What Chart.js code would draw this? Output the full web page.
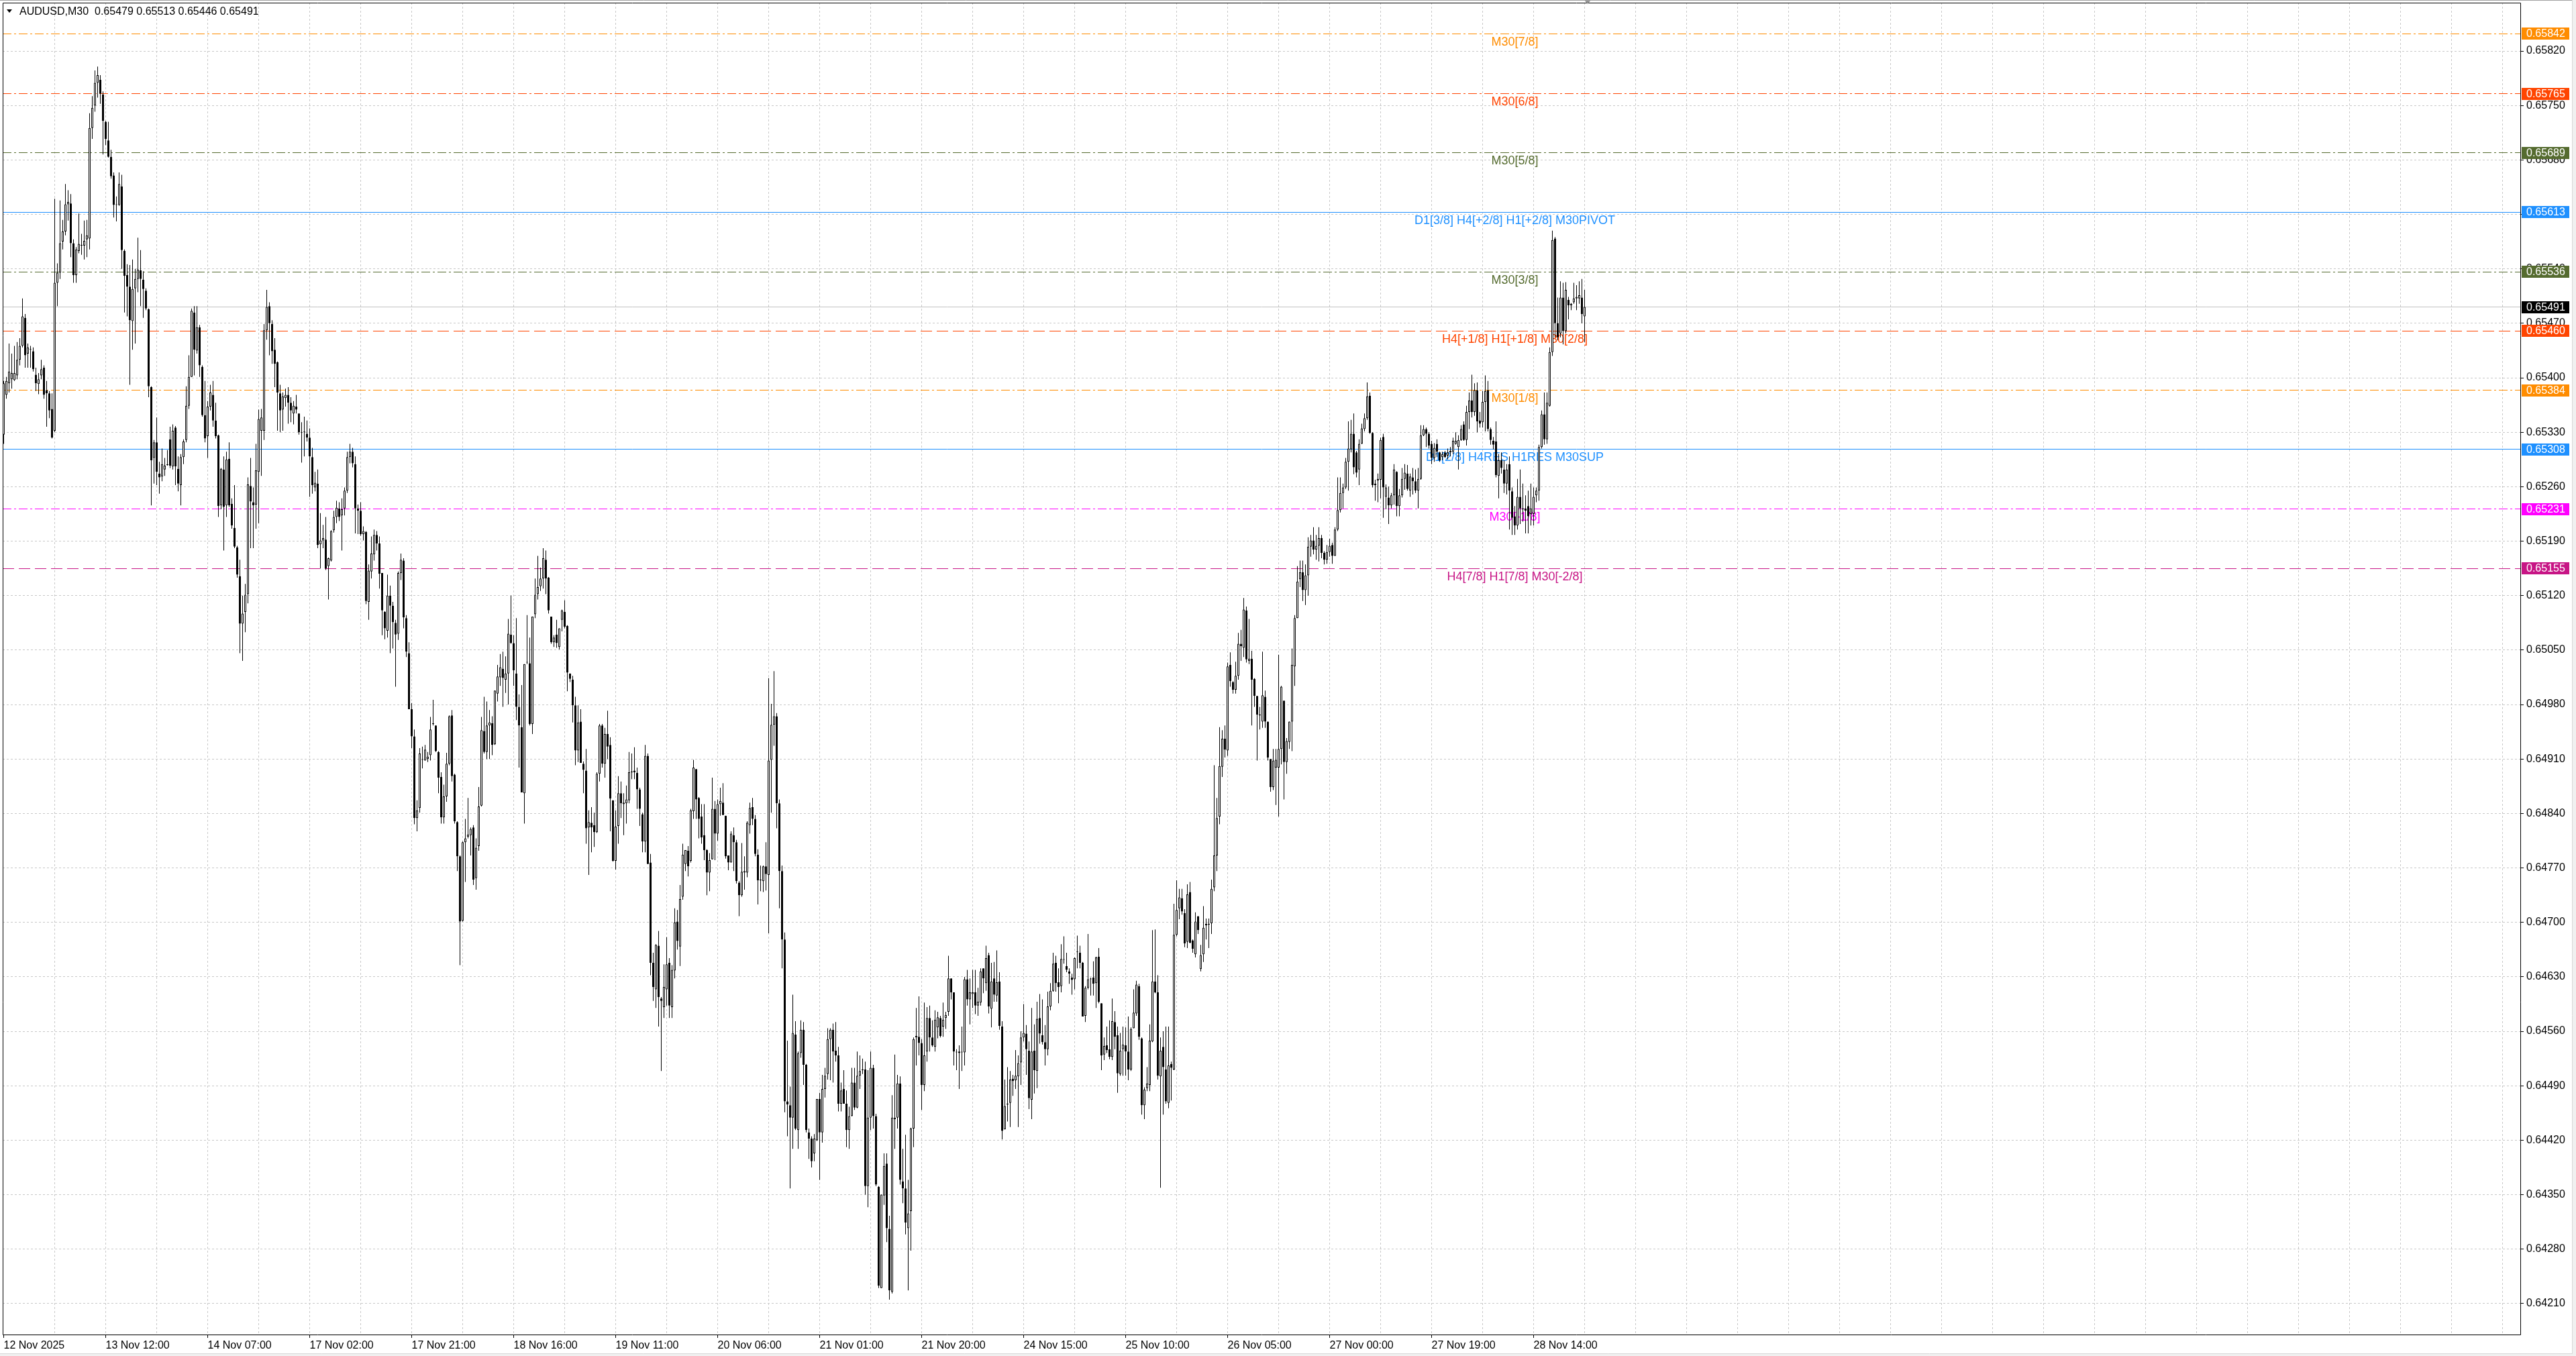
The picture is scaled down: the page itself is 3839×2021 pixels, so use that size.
<!DOCTYPE html>
<html>
<head>
<meta charset="utf-8">
<title>AUDUSD,M30</title>
<script src="https://cdn.jsdelivr.net/npm/chart.js@4.4.1/dist/chart.umd.min.js"></script>
<style>
  html, body { margin: 0; padding: 0; background: #ffffff; overflow: hidden; }
  #wrap { width: 3839px; height: 2021px; position: relative; }
</style>
</head>
<body>
<div id="wrap"><canvas id="chart"></canvas></div>
<script>
// AUDUSD M30 candles, prices in points (1 point = 0.00001)
var openPts = [
  65327,65378,65393,65398,65397,65403,65423,65441,65477,65431,
  65436,65434,65404,65392,65403,65413,65384,65380,65360,65332,
  65522,65535,65575,65588,65623,65624,65573,65532,65563,65570,
  65570,65578,65579,65721,65750,65779,65783,65764,65729,65705,
  65684,65660,65622,65622,65646,65563,65532,65517,65473,65515,
  65527,65538,65526,65512,65488,65388,65297,65317,65277,65273,
  65282,65288,65321,65286,65336,65283,65262,65298,65320,65364,
  65401,65484,65435,65465,65414,65352,65325,65363,65378,65345,
  65326,65236,65282,65236,65296,65238,65207,65182,65145,65084,
  65099,65122,65261,65240,65237,65279,65332,65332,65461,65492,
  65469,65436,65420,65380,65359,65374,65378,65368,65354,65363,
  65354,65330,65330,65328,65323,65298,65259,65264,65186,65191,
  65192,65158,65165,65204,65221,65232,65223,65232,65255,65298,
  65305,65289,65232,65229,65199,65202,65112,65151,65173,65198,
  65187,65149,65099,65075,65120,65107,65085,65071,65149,65165,
  65091,65046,64974,64939,64834,64847,64909,64908,64910,64915,
  64955,64953,64919,64887,64835,64862,64904,64966,64890,64829,
  64785,64702,64803,64810,64812,64822,64757,64798,64850,64946,
  64919,64953,64956,64929,64994,65015,65026,65012,65020,65070,
  65059,65020,64977,64951,64866,65034,65033,64955,65096,65122,
  65132,65142,65166,65143,65093,65060,65070,65054,65089,65099,
  65081,65020,65012,64979,64921,64958,64904,64895,64822,64828,
  64825,64816,64891,64953,64904,64942,64928,64857,64779,64824,
  64866,64852,64853,64857,64893,64895,64892,64871,64839,64804,
  64914,64777,64648,64614,64670,64602,64591,64614,64648,64591,
  64638,64701,64669,64733,64775,64792,64779,64843,64897,64860,
  64836,64812,64793,64764,64781,64846,64814,64852,64854,64837,
  64786,64777,64812,64803,64751,64735,64764,64764,64825,64848,
  64833,64787,64754,64753,64772,64761,64909,64954,64965,64853,
  64766,64678,64470,64465,64449,64556,64433,64532,64562,64517,
  64430,64422,64403,64420,64473,64430,64486,64505,64550,64562,
  64535,64529,64467,64486,64467,64433,64451,64494,64462,64503,
  64510,64511,64361,64449,64513,64451,64360,64230,64349,64390,
  64306,64225,64447,64449,64493,64367,64358,64307,64329,64435,
  64552,64553,64545,64491,64534,64577,64552,64540,64565,64577,
  64566,64577,64585,64628,64610,64533,64534,64533,64533,64627,
  64601,64608,64610,64593,64597,64641,64622,64658,64589,64628,
  64606,64624,64566,64434,64466,64468,64499,64497,64502,64520,
  64552,64557,64535,64472,64535,64509,64577,64555,64546,64537,
  64592,64612,64648,64623,64618,64652,64644,64637,64629,64627,
  64662,64661,64648,64580,64616,64627,64629,64622,64656,64596,
  64530,64542,64537,64527,64572,64555,64505,64537,64542,64534,
  64511,64564,64583,64618,64551,64465,64487,64491,64547,64624,
  64610,64502,64540,64511,64468,64518,64511,64684,64718,64731,
  64712,64675,64739,64677,64659,64708,64640,64659,64698,64697,
  64699,64745,64786,64836,64900,64936,64921,65031,65009,64999,
  65017,65058,65053,65101,65036,65039,65013,64991,64967,64958,
  64990,64958,64910,64874,64899,64899,64923,64985,64906,64932,
  64958,65029,65091,65141,65150,65127,65146,65183,65191,65179,
  65184,65194,65175,65166,65176,65185,65171,65205,65230,65252,
  65259,65292,65308,65328,65304,65282,65315,65334,65348,65377,
  65329,65264,65268,65269,65324,65247,65246,65236,65249,65279,
  65235,65249,65270,65277,65255,65272,65267,65255,65270,65326,
  65334,65328,65315,65297,65315,65304,65298,65304,65300,65304,
  65305,65315,65311,65320,65340,65320,65356,65371,65356,65384,
  65345,65343,65369,65384,65334,65319,65318,65274,65294,65282,
  65264,65289,65254,65222,65210,65247,65231,65232,65235,65225,
  65225,65249,65255,65311,65353,65321,65364,65433,65579,65470,
  65457,65503,65460,65500,65493,65497,65502,65502,65503,65479
];
var highPts = [
  65396,65401,65444,65431,65441,65446,65451,65502,65482,65444,
  65441,65439,65413,65406,65423,65416,65396,65383,65380,65630,
  65547,65628,65603,65649,65641,65636,65578,65568,65611,65585,
  65602,65603,65740,65762,65795,65800,65789,65768,65730,65729,
  65693,65664,65633,65664,65661,65565,65546,65545,65552,65540,
  65580,65564,65537,65515,65489,65389,65320,65349,65292,65309,
  65297,65307,65337,65340,65338,65299,65302,65321,65389,65429,
  65489,65492,65492,65468,65416,65396,65370,65391,65396,65368,
  65327,65284,65299,65305,65317,65245,65262,65184,65166,65120,
  65135,65272,65297,65259,65315,65359,65360,65469,65513,65497,
  65474,65451,65421,65391,65381,65386,65388,65375,65370,65378,
  65354,65343,65350,65345,65335,65310,65279,65282,65226,65211,
  65221,65169,65204,65229,65242,65240,65245,65259,65305,65315,
  65310,65299,65237,65240,65209,65203,65160,65196,65205,65203,
  65196,65149,65100,65147,65133,65112,65089,65151,65174,65168,
  65095,65060,64982,64948,64857,64924,64926,64928,64919,64964,
  64986,64953,64920,64893,64877,64918,64966,64973,64891,64830,
  64786,64804,64833,64860,64822,64825,64808,64874,64964,64990,
  64984,64973,64965,64998,65031,65045,65048,65042,65090,65120,
  65069,65091,64993,65005,65032,65095,65066,65093,65142,65171,
  65156,65181,65178,65144,65093,65069,65089,65078,65102,65114,
  65082,65020,65017,64990,64979,64974,64907,64923,64844,64848,
  64841,64893,64955,64955,64950,64972,64938,64857,64844,64888,
  64881,64866,64876,64919,64917,64925,64899,64873,64841,64928,
  64917,64788,64661,64672,64689,64604,64646,64681,64654,64645,
  64718,64716,64748,64801,64793,64798,64846,64909,64897,64861,
  64852,64852,64794,64789,64886,64856,64858,64873,64879,64837,
  64786,64817,64822,64806,64753,64802,64785,64830,64854,64860,
  64838,64794,64773,64773,64803,65014,64981,65023,64969,64858,
  64773,64687,64548,64489,64607,64573,64534,64574,64572,64518,
  64435,64425,64428,64473,64481,64504,64513,64564,64564,64570,
  64572,64540,64494,64510,64484,64463,64513,64513,64534,64529,
  64525,64521,64510,64534,64517,64454,64361,64350,64403,64403,
  64323,64478,64530,64504,64502,64409,64427,64369,64436,64552,
  64590,64605,64550,64597,64591,64593,64574,64587,64585,64580,
  64597,64585,64657,64628,64610,64537,64542,64566,64630,64639,
  64628,64639,64639,64616,64641,64641,64670,64661,64648,64649,
  64664,64636,64573,64498,64514,64509,64504,64536,64529,64560,
  64595,64568,64547,64590,64569,64598,64608,64601,64568,64611,
  64622,64661,64657,64641,64672,64682,64661,64641,64634,64655,
  64683,64670,64649,64618,64685,64629,64650,64656,64667,64596,
  64552,64566,64574,64602,64586,64566,64558,64566,64565,64579,
  64565,64614,64625,64621,64552,64488,64514,64569,64690,64691,
  64632,64552,64560,64566,64566,64521,64724,64754,64743,64743,
  64717,64749,64752,64678,64713,64708,64671,64721,64705,64705,
  64755,64902,64860,64951,64947,64953,65034,65047,65010,65035,
  65072,65076,65117,65106,65090,65049,65014,64991,64977,65048,
  64998,64958,64910,64923,64923,65044,65004,64985,64937,64958,
  65052,65095,65158,65165,65165,65160,65195,65198,65208,65198,
  65208,65198,65177,65185,65193,65188,65208,65272,65272,65264,
  65297,65344,65346,65354,65306,65321,65341,65354,65394,65381,
  65330,65269,65277,65323,65328,65263,65260,65252,65289,65280,
  65257,65284,65289,65288,65277,65284,65282,65284,65339,65339,
  65336,65330,65319,65316,65321,65305,65305,65306,65309,65311,
  65323,65330,65326,65339,65344,65364,65381,65404,65393,65394,
  65356,65383,65403,65396,65336,65324,65344,65302,65304,65294,
  65289,65299,65259,65235,65270,65282,65264,65249,65255,65264,
  65259,65259,65314,65358,65381,65381,65439,65589,65581,65503,
  65524,65522,65523,65504,65496,65522,65519,65524,65527,65513
];
var lowPts = [
  65315,65373,65381,65386,65396,65398,65416,65439,65413,65413,
  65413,65408,65383,65379,65398,65373,65337,65348,65322,65330,
  65492,65527,65565,65583,65602,65555,65522,65522,65560,65558,
  65552,65555,65565,65707,65742,65760,65752,65687,65699,65683,
  65656,65606,65601,65621,65540,65484,65479,65391,65436,65444,
  65510,65492,65477,65487,65375,65236,65264,65262,65251,65267,
  65274,65287,65284,65282,65262,65254,65236,65289,65317,65360,
  65401,65403,65431,65401,65350,65317,65297,65358,65337,65322,
  65221,65231,65178,65221,65234,65206,65181,65143,65046,65036,
  65073,65110,65181,65181,65206,65213,65274,65320,65449,65429,
  65418,65388,65332,65330,65332,65363,65341,65343,65340,65354,
  65327,65291,65299,65318,65247,65251,65254,65181,65155,65181,
  65153,65115,65164,65201,65213,65216,65178,65223,65252,65290,
  65285,65200,65199,65197,65191,65109,65089,65142,65165,65178,
  65129,65069,65064,65066,65046,65052,65003,65063,65140,65078,
  65041,64974,64924,64826,64817,64841,64898,64908,64906,64908,
  64953,64919,64866,64827,64827,64855,64902,64881,64827,64766,
  64645,64701,64752,64808,64786,64748,64742,64792,64849,64917,
  64910,64910,64915,64928,64984,65004,64977,64995,64980,65058,
  65004,64960,64899,64867,64827,65032,64953,64942,65091,65115,
  65126,65129,65122,65097,65058,65054,65053,65051,65074,65078,
  64997,65009,64957,64902,64906,64905,64866,64801,64761,64790,
  64797,64815,64881,64899,64886,64910,64817,64778,64768,64801,
  64834,64812,64827,64853,64884,64884,64846,64824,64790,64790,
  64775,64632,64599,64590,64566,64509,64577,64593,64577,64577,
  64628,64665,64644,64729,64766,64759,64777,64833,64833,64808,
  64801,64780,64735,64740,64781,64780,64805,64837,64838,64782,
  64767,64777,64766,64750,64708,64733,64742,64758,64814,64825,
  64785,64723,64740,64739,64741,64686,64841,64927,64821,64718,
  64641,64456,64425,64358,64409,64433,64409,64526,64491,64430,
  64396,64385,64393,64419,64369,64417,64475,64498,64497,64494,
  64521,64457,64457,64467,64411,64409,64451,64459,64461,64486,
  64505,64350,64334,64433,64435,64361,64230,64230,64337,64289,
  64215,64223,64409,64435,64363,64339,64299,64227,64278,64411,
  64516,64529,64459,64483,64521,64534,64540,64534,64551,64552,
  64553,64563,64580,64601,64516,64510,64486,64509,64516,64593,
  64569,64590,64582,64580,64593,64609,64612,64583,64565,64598,
  64598,64562,64421,64434,64444,64437,64477,64486,64437,64491,
  64547,64504,64460,64447,64480,64487,64544,64543,64516,64529,
  64587,64611,64611,64596,64610,64647,64636,64621,64607,64614,
  64641,64641,64579,64572,64614,64606,64606,64590,64596,64510,
  64523,64532,64524,64523,64537,64481,64503,64503,64503,64497,
  64509,64564,64580,64549,64453,64447,64483,64483,64546,64609,
  64498,64359,64453,64467,64461,64471,64510,64682,64704,64710,
  64668,64667,64673,64661,64655,64685,64637,64649,64678,64667,
  64685,64740,64766,64826,64887,64912,64914,65003,64994,64994,
  65012,65036,65041,65034,65032,64953,64977,64908,64948,64950,
  64950,64908,64868,64870,64851,64836,64903,64858,64891,64923,
  64920,65004,65091,65131,65113,65108,65120,65170,65173,65166,
  65164,65168,65160,65161,65170,65161,65171,65203,65227,65232,
  65257,65255,65304,65276,65272,65262,65315,65331,65346,65328,
  65259,65242,65240,65245,65220,65231,65212,65232,65237,65222,
  65222,65246,65256,65255,65247,65250,65252,65232,65269,65325,
  65311,65309,65289,65292,65298,65292,65294,65297,65295,65299,
  65302,65314,65282,65319,65319,65313,65334,65349,65351,65330,
  65336,65336,65331,65331,65314,65308,65272,65245,65277,65252,
  65250,65205,65198,65198,65205,65212,65215,65200,65200,65210,
  65210,65240,65242,65309,65314,65315,65363,65428,65452,65448,
  65452,65443,65457,65475,65487,65495,65487,65495,65470,65446
];
var closePts = [
  65393,65396,65408,65406,65406,65423,65441,65479,65429,65439,
  65436,65411,65393,65398,65411,65378,65380,65358,65323,65522,
  65535,65573,65588,65623,65626,65573,65532,65565,65572,65570,
  65576,65583,65721,65747,65779,65789,65765,65730,65707,65684,
  65659,65622,65623,65649,65564,65531,65517,65474,65514,65527,
  65539,65527,65514,65489,65389,65294,65317,65279,65272,65289,
  65287,65288,65287,65332,65286,65264,65298,65318,65364,65401,
  65486,65436,65465,65416,65352,65322,65363,65381,65345,65325,
  65235,65283,65234,65295,65236,65210,65183,65147,65084,65097,
  65121,65263,65241,65236,65281,65347,65349,65461,65491,65470,
  65434,65418,65381,65358,65376,65378,65368,65358,65364,65359,
  65330,65329,65330,65323,65299,65262,65265,65185,65191,65194,
  65155,65168,65203,65221,65233,65221,65231,65255,65298,65305,
  65290,65232,65229,65199,65203,65113,65152,65174,65198,65187,
  65148,65101,65078,65120,65107,65086,65070,65149,65166,65092,
  65048,64974,64939,64834,64844,64917,64909,64922,64913,64948,
  64955,64920,64886,64835,64862,64904,64965,64888,64830,64785,
  64701,64803,64808,64813,64820,64755,64796,64849,64947,64919,
  64953,64957,64928,64998,65016,65028,65014,65020,65071,65059,
  65024,64977,64953,64867,65032,65034,64955,65093,65121,65131,
  65142,65168,65142,65101,65060,65066,65059,65078,65101,65080,
  65021,65013,64979,64921,64957,64905,64896,64821,64829,64822,
  64816,64891,64953,64904,64942,64926,64859,64779,64823,64866,
  64853,64854,64858,64893,64894,64893,64871,64846,64804,64914,
  64775,64648,64617,64671,64604,64599,64617,64646,64593,64639,
  64700,64676,64730,64787,64793,64772,64844,64899,64858,64833,
  64809,64793,64764,64780,64846,64814,64852,64856,64838,64785,
  64777,64814,64803,64753,64735,64765,64766,64828,64847,64833,
  64788,64754,64754,64772,64762,64908,64954,64965,64853,64766,
  64678,64470,64466,64449,64558,64435,64532,64562,64517,64433,
  64422,64393,64422,64473,64430,64486,64503,64550,64562,64534,
  64529,64467,64484,64467,64433,64451,64494,64462,64503,64509,
  64510,64361,64449,64513,64451,64363,64233,64350,64387,64307,
  64227,64449,64449,64493,64369,64358,64314,64326,64435,64550,
  64554,64545,64491,64529,64577,64552,64542,64575,64578,64554,
  64575,64581,64628,64610,64534,64533,64532,64533,64627,64601,
  64610,64610,64593,64598,64637,64628,64654,64592,64624,64607,
  64623,64567,64432,64464,64466,64498,64496,64503,64519,64552,
  64558,64537,64474,64534,64510,64576,64557,64546,64537,64592,
  64612,64647,64622,64617,64653,64652,64639,64634,64626,64654,
  64662,64648,64579,64616,64627,64627,64621,64655,64598,64529,
  64541,64536,64527,64573,64553,64506,64535,64543,64534,64511,
  64563,64584,64620,64553,64465,64485,64493,64548,64624,64610,
  64503,64535,64514,64470,64516,64513,64684,64716,64732,64714,
  64673,64736,64674,64666,64701,64690,64658,64693,64696,64698,
  64743,64786,64834,64901,64936,64922,65029,65010,64999,65017,
  65058,65055,65102,65038,65039,65012,64991,64967,64966,64992,
  64958,64912,64874,64908,64909,64923,65003,64906,64933,64958,
  65031,65091,65138,65150,65127,65146,65183,65191,65179,65184,
  65194,65175,65166,65176,65184,65171,65205,65230,65252,65259,
  65292,65309,65328,65285,65278,65315,65335,65348,65376,65329,
  65262,65262,65270,65320,65259,65259,65236,65249,65282,65235,
  65249,65270,65278,65257,65273,65267,65255,65270,65326,65334,
  65328,65313,65297,65310,65305,65294,65302,65298,65304,65306,
  65319,65319,65320,65334,65320,65356,65371,65356,65384,65344,
  65341,65369,65383,65334,65320,65314,65275,65294,65284,65264,
  65282,65255,65220,65210,65247,65232,65232,65229,65222,65232,
  65247,65255,65311,65353,65321,65368,65433,65577,65470,65452,
  65503,65460,65513,65493,65495,65502,65504,65506,65482,65491
];

// time axis labels, one every 38 bars (19 hours)
var xTickLabels = ['12 Nov 2025', '13 Nov 12:00', '14 Nov 07:00', '17 Nov 02:00', '17 Nov 21:00',
  '18 Nov 16:00', '19 Nov 11:00', '20 Nov 06:00', '21 Nov 01:00', '21 Nov 20:00', '24 Nov 15:00',
  '25 Nov 10:00', '26 Nov 05:00', '27 Nov 00:00', '27 Nov 19:00', '28 Nov 14:00'];
var yTickValues = [0.65820, 0.65750, 0.65680, 0.65610, 0.65540, 0.65470, 0.65400, 0.65330, 0.65260,
  0.65190, 0.65120, 0.65050, 0.64980, 0.64910, 0.64840, 0.64770, 0.64700, 0.64630, 0.64560,
  0.64490, 0.64420, 0.64350, 0.64280, 0.64210];

// Murrey math levels
var levelValues = [0.65842, 0.65765, 0.65689, 0.65613, 0.65536, 0.65460, 0.65384, 0.65308, 0.65231, 0.65155];
var levelNames = ['M30[7/8]', 'M30[6/8]', 'M30[5/8]', 'D1[3/8] H4[+2/8] H1[+2/8] M30PIVOT', 'M30[3/8]',
  'H4[+1/8] H1[+1/8] M30[2/8]', 'M30[1/8]', 'D1[2/8] H4RES H1RES M30SUP', 'M30[-1/8]', 'H4[7/8] H1[7/8] M30[-2/8]'];
var levelColors = ['#FF8C00', '#FF4500', '#556B2F', '#1E90FF', '#556B2F', '#FF4500', '#FF8C00', '#1E90FF', '#FF00FF', '#C71585'];
var levelStyles = ['dashdot', 'dashdot', 'dashdot', 'solid', 'dashdot', 'dash', 'dashdot', 'solid', 'dashdot', 'dash'];

var barsPerLabel = 38;
var barsPerGrid = 19;
var labelBar = 563;     // where the level names sit
var shiftBar = 590;     // chart shift marker
var yAxisMin = 0.641694;
var yAxisMax = 0.658821;
var fontFamily = "'Liberation Sans', Arial, sans-serif";

Chart.defaults.font.family = fontFamily;
Chart.defaults.font.size = 16;
Chart.defaults.color = '#000000';

var bodyData = [];
var wickData = [];
for (var i = 0; i < openPts.length; i++) {
  bodyData.push({ x: i, y: [openPts[i] / 100000, closePts[i] / 100000] });
  wickData.push({ x: i, y: [lowPts[i] / 100000, highPts[i] / 100000] });
}

function dashFor(style) {
  if (style === 'dashdot') return [13, 4, 3, 4];
  if (style === 'dash') return [17, 7];
  return [];
}

var mtPlugin = {
  id: 'mtLevels',
  beforeDatasetsDraw: function (chart) {
    var ctx = chart.ctx, a = chart.chartArea;
    var ys = chart.scales.y, xs = chart.scales.x;
    ctx.save();
    ctx.beginPath();
    ctx.rect(a.left, a.top, a.right - a.left, a.bottom - a.top);
    ctx.clip();
    ctx.lineWidth = 1;

    // bid line
    var bid = closePts[closePts.length - 1] / 100000;
    var yb = Math.floor(ys.getPixelForValue(bid)) + 0.5;
    ctx.strokeStyle = '#C0C0C0';
    ctx.setLineDash([]);
    ctx.beginPath(); ctx.moveTo(a.left, yb); ctx.lineTo(a.right, yb); ctx.stroke();

    for (var k = 0; k < levelValues.length; k++) {
      var y = Math.floor(ys.getPixelForValue(levelValues[k])) + 0.5;
      ctx.strokeStyle = levelColors[k];
      ctx.setLineDash(dashFor(levelStyles[k]));
      ctx.beginPath(); ctx.moveTo(a.left, y); ctx.lineTo(a.right, y); ctx.stroke();
    }
    ctx.setLineDash([]);
    ctx.font = '18px ' + fontFamily;
    ctx.textAlign = 'center';
    ctx.textBaseline = 'alphabetic';
    var lx = xs.getPixelForValue(labelBar);
    for (var m = 0; m < levelValues.length; m++) {
      var yl = ys.getPixelForValue(levelValues[m]);
      ctx.fillStyle = levelColors[m];
      ctx.fillText(levelNames[m], lx, yl + 17.5);
    }
    ctx.restore();
  },
  afterDraw: function (chart) {
    var ctx = chart.ctx, a = chart.chartArea;
    var ys = chart.scales.y, xs = chart.scales.x;
    ctx.save();
    // chart frame
    ctx.strokeStyle = '#000000';
    ctx.lineWidth = 1;
    ctx.beginPath();
    ctx.moveTo(a.left + 0.5, a.bottom - 0.5);
    ctx.lineTo(a.left + 0.5, a.top + 0.5);
    ctx.lineTo(a.right - 0.5, a.top + 0.5);
    ctx.lineTo(a.right - 0.5, a.bottom - 0.5);
    ctx.lineTo(a.left + 0.5, a.bottom - 0.5);
    ctx.stroke();

    // price boxes on the axis
    ctx.font = '16px ' + fontFamily;
    ctx.textAlign = 'left';
    ctx.textBaseline = 'middle';
    var boxes = [];
    for (var k = 0; k < levelValues.length; k++) boxes.push([levelValues[k], levelColors[k]]);
    boxes.push([closePts[closePts.length - 1] / 100000, '#000000']);
    boxes.forEach(function (b) {
      var y = Math.round(ys.getPixelForValue(b[0]));
      ctx.fillStyle = b[1];
      ctx.fillRect(a.right + 1, y - 9, 71, 18);
      ctx.fillStyle = '#ffffff';
      ctx.fillText(b[0].toFixed(5), a.right + 8, y + 1);
    });

    // header
    ctx.fillStyle = '#000000';
    ctx.beginPath();
    ctx.moveTo(10, 14); ctx.lineTo(18, 14); ctx.lineTo(14, 19); ctx.closePath();
    ctx.fill();
    var n = closePts.length - 1;
    var title = 'AUDUSD,M30  ' + [openPts[n], highPts[n], lowPts[n], closePts[n]].map(function (v) {
      return (v / 100000).toFixed(5);
    }).join(' ');
    ctx.fillText(title, 29, 18);

    // chart shift marker
    var sx = Math.round(xs.getPixelForValue(shiftBar));
    ctx.fillStyle = '#909090';
    ctx.beginPath();
    ctx.moveTo(sx - 5, 0); ctx.lineTo(sx + 5, 0); ctx.lineTo(sx, 6); ctx.closePath();
    ctx.fill();

    // window edges
    ctx.strokeStyle = '#A0A0A0';
    ctx.beginPath(); ctx.moveTo(0, 0.5); ctx.lineTo(chart.width, 0.5); ctx.stroke();
    ctx.fillStyle = '#F0F0F0';
    ctx.fillRect(chart.width - 5, 0, 5, chart.height);
    ctx.fillRect(0, chart.height - 3, chart.width, 3);
    ctx.strokeStyle = '#D8D8D8';
    ctx.beginPath(); ctx.moveTo(chart.width - 5.5, 0); ctx.lineTo(chart.width - 5.5, chart.height - 3); ctx.stroke();
    ctx.beginPath(); ctx.moveTo(0, chart.height - 3.5); ctx.lineTo(chart.width - 5, chart.height - 3.5); ctx.stroke();
    ctx.restore();
  }
};

new Chart(document.getElementById('chart'), {
  type: 'bar',
  data: {
    datasets: [
      {
        label: 'body',
        data: bodyData,
        order: 0,
        grouped: false,
        barThickness: 3,
        maxBarThickness: 3,
        minBarLength: 1,
        borderWidth: 1,
        borderColor: '#000000',
        borderSkipped: false,
        inflateAmount: 0,
        backgroundColor: function (c) {
          var j = c.dataIndex;
          return closePts[j] >= openPts[j] ? '#ffffff' : '#000000';
        }
      },
      {
        label: 'wick',
        data: wickData,
        order: 1,
        grouped: false,
        barThickness: 1,
        maxBarThickness: 1,
        minBarLength: 1,
        borderWidth: 0,
        inflateAmount: 0,
        backgroundColor: '#000000'
      }
    ]
  },
  options: {
    responsive: true,
    maintainAspectRatio: false,
    animation: false,
    devicePixelRatio: 1,
    events: [],
    layout: { padding: { left: 4, top: 4, right: 0, bottom: 0 } },
    plugins: { legend: { display: false }, tooltip: { enabled: false } },
    scales: {
      x: {
        type: 'linear',
        min: -0.375,
        max: 937.875,
        offset: false,
        afterBuildTicks: function (s) {
          var t = [];
          for (var v = 0; v <= s.max; v += barsPerGrid) t.push({ value: v });
          s.ticks = t;
        },
        afterFit: function (s) {
          s.height = 31;
          s.paddingLeft = 0;
          s.paddingRight = 0;
        },
        ticks: {
          autoSkip: false,
          maxRotation: 0,
          minRotation: 0,
          align: 'start',
          padding: 4,
          color: '#000000',
          font: { size: 16, lineHeight: 1 },
          callback: function (v) {
            if (v % barsPerLabel === 0) {
              var k = v / barsPerLabel;
              if (k < xTickLabels.length) return xTickLabels[k];
            }
            return '';
          }
        },
        grid: {
          offset: false,
          lineWidth: 1,
          tickLength: 4,
          color: function (c) {
            return c.tick && c.tick.value === 0 ? 'rgba(0,0,0,0)' : '#C8C8C8';
          },
          tickColor: function (c) {
            var v = c.tick ? c.tick.value : -1;
            return (v % barsPerLabel === 0 && v / barsPerLabel < xTickLabels.length) ? '#000000' : 'rgba(0,0,0,0)';
          }
        },
        border: { display: false, dash: [3, 3] }
      },
      y: {
        position: 'right',
        min: yAxisMin,
        max: yAxisMax,
        beginAtZero: false,
        afterBuildTicks: function (s) {
          s.ticks = yTickValues.map(function (v) { return { value: v }; });
        },
        afterFit: function (s) {
          s.width = 82;
          s.paddingTop = 0;
          s.paddingBottom = 0;
        },
        ticks: {
          autoSkip: false,
          padding: 4,
          color: '#000000',
          font: { size: 16 },
          callback: function (v) { return Number(v).toFixed(5); }
        },
        grid: { color: '#C8C8C8', lineWidth: 1, tickLength: 4, tickColor: '#000000' },
        border: { display: false, dash: [3, 3] }
      }
    }
  },
  plugins: [mtPlugin]
});
</script>
</body>
</html>
